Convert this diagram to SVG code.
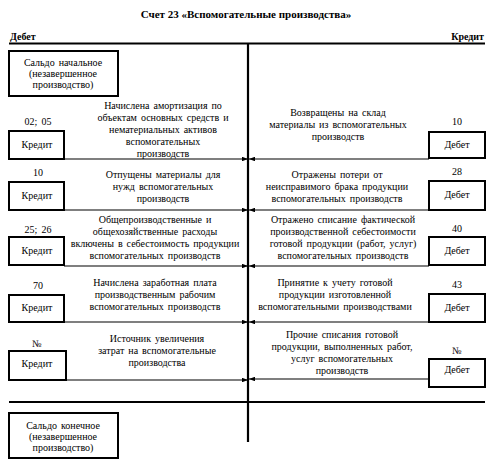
<svg xmlns="http://www.w3.org/2000/svg" width="495" height="470" viewBox="0 0 495 470" font-family="'Liberation Serif', 'Times New Roman', serif">
<style>
text{font-family:'Liberation Serif','Times New Roman',serif;font-size:10px;fill:#000;word-spacing:1.5px}
.t{font-weight:bold;font-size:11px;word-spacing:0}
.h{font-weight:bold;font-size:10px;word-spacing:0}
.m{text-anchor:middle}
.box{fill:#fff;stroke:#000;stroke-width:2}
.axis{stroke:#000;stroke-width:2.2;fill:none}
.ar{stroke:#000;stroke-width:1.1;fill:none}
</style>
<defs>
<marker id="ah" viewBox="0 0 8 6" refX="8" refY="3" markerWidth="6" markerHeight="4.5" orient="auto" markerUnits="userSpaceOnUse">
<path d="M0,0 L8,3 L0,6 z" fill="#000"/>
</marker>
</defs>
<rect width="495" height="470" fill="#fff"/>
<text class="t m" x="246" y="18">Счет 23 «Вспомогательные производства»</text>
<text class="h" x="10" y="40">Дебет</text>
<text class="h" x="484" y="40" text-anchor="end">Кредит</text>
<g id="axes">
<line class="axis" x1="9" y1="43.5" x2="485" y2="43.5"/>
<line class="axis" x1="248" y1="43" x2="248" y2="442"/>
<line class="axis" x1="9" y1="402" x2="485" y2="402"/>
</g>
<g id="connectors">
<line class="ar" x1="64" y1="159" x2="248" y2="159" marker-end="url(#ah)"/>
<line class="ar" x1="429" y1="159" x2="249" y2="159" marker-end="url(#ah)"/>
<line class="ar" x1="64" y1="210" x2="248" y2="210" marker-end="url(#ah)"/>
<line class="ar" x1="429" y1="210" x2="249" y2="210" marker-end="url(#ah)"/>
<line class="ar" x1="64" y1="266" x2="248" y2="266" marker-end="url(#ah)"/>
<line class="ar" x1="429" y1="266" x2="249" y2="266" marker-end="url(#ah)"/>
<line class="ar" x1="64" y1="322" x2="248" y2="322" marker-end="url(#ah)"/>
<line class="ar" x1="429" y1="322" x2="249" y2="322" marker-end="url(#ah)"/>
<line class="ar" x1="66" y1="380" x2="248" y2="380" marker-end="url(#ah)"/>
<line class="ar" x1="429" y1="379" x2="249" y2="379" marker-end="url(#ah)"/>
</g>
<g id="saldo-start">
<rect class="box" x="9" y="51" width="109" height="45"/>
<text class="m" x="63" y="66">Сальдо начальное</text>
<text class="m" x="63" y="77">(незавершенное</text>
<text class="m" x="63" y="88">производство)</text>
</g>
<g id="l1">
<text class="m" x="38" y="125">02; 05</text>
<rect class="box" x="9" y="131" width="55" height="28"/>
<text class="m" x="37" y="148">Кредит</text>
<text class="m" x="163" y="109">Начислена амортизация по</text>
<text class="m" x="163" y="121">объектам основных средств и</text>
<text class="m" x="163" y="133">нематериальных активов</text>
<text class="m" x="163" y="145">вспомогательных</text>
<text class="m" x="163" y="157">производств</text>
</g>
<g id="r1">
<text class="m" x="457" y="125">10</text>
<rect class="box" x="429" y="132" width="56" height="26"/>
<text class="m" x="457" y="148">Дебет</text>
<text class="m" x="338" y="116">Возвращены на склад</text>
<text class="m" x="338" y="128">материалы из вспомогательных</text>
<text class="m" x="338" y="140">производств</text>
</g>
<g id="l2">
<text class="m" x="38" y="176">10</text>
<rect class="box" x="9" y="182" width="55" height="28"/>
<text class="m" x="37" y="199">Кредит</text>
<text class="m" x="163" y="178">Отпущены материалы для</text>
<text class="m" x="163" y="190">нужд вспомогательных</text>
<text class="m" x="163" y="202">производств</text>
</g>
<g id="r2">
<text class="m" x="457" y="175">28</text>
<rect class="box" x="429" y="181" width="56" height="29"/>
<text class="m" x="457" y="198">Дебет</text>
<text class="m" x="337" y="178">Отражены потери от</text>
<text class="m" x="337" y="190">неисправимого брака продукции</text>
<text class="m" x="337" y="202">вспомогательных производств</text>
</g>
<g id="l3">
<text class="m" x="38" y="233">25; 26</text>
<rect class="box" x="9" y="237" width="55" height="28"/>
<text class="m" x="37" y="254">Кредит</text>
<text class="m" x="155" y="223">Общепроизводственные и</text>
<text class="m" x="155" y="235">общехозяйственные расходы</text>
<text class="m" x="155" y="247">включены в себестоимость продукции</text>
<text class="m" x="155" y="259">вспомогательных производств</text>
</g>
<g id="r3">
<text class="m" x="457" y="232">40</text>
<rect class="box" x="429" y="237" width="56" height="28"/>
<text class="m" x="457" y="254">Дебет</text>
<text class="m" x="343" y="223">Отражено списание фактической</text>
<text class="m" x="343" y="235">производственной себестоимости</text>
<text class="m" x="343" y="247">готовой продукции (работ, услуг)</text>
<text class="m" x="343" y="259">вспомогательных производств</text>
</g>
<g id="l4">
<text class="m" x="38" y="289">70</text>
<rect class="box" x="9" y="295" width="55" height="27"/>
<text class="m" x="37" y="311">Кредит</text>
<text class="m" x="155" y="286">Начислена заработная плата</text>
<text class="m" x="155" y="298">производственным рабочим</text>
<text class="m" x="155" y="310">вспомогательных производств</text>
</g>
<g id="r4">
<text class="m" x="457" y="288">43</text>
<rect class="box" x="429" y="294" width="56" height="28"/>
<text class="m" x="457" y="311">Дебет</text>
<text class="m" x="335" y="286">Принятие к учету готовой</text>
<text class="m" x="335" y="298">продукции изготовленной</text>
<text class="m" x="335" y="310">вспомогательными производствами</text>
</g>
<g id="l5">
<text class="m" x="37" y="347">№</text>
<rect class="box" x="9" y="351" width="57" height="29"/>
<text class="m" x="37" y="367">Кредит</text>
<text class="m" x="157" y="342">Источник увеличения</text>
<text class="m" x="157" y="354">затрат на вспомогательные</text>
<text class="m" x="157" y="366">производства</text>
</g>
<g id="r5">
<text class="m" x="457" y="354">№</text>
<rect class="box" x="429" y="359" width="56" height="28"/>
<text class="m" x="457" y="373">Дебет</text>
<text class="m" x="342" y="338">Прочие списания готовой</text>
<text class="m" x="342" y="350">продукции, выполненных работ,</text>
<text class="m" x="342" y="362">услуг вспомогательных</text>
<text class="m" x="342" y="374">производств</text>
</g>
<g id="saldo-end">
<rect class="box" x="9" y="413" width="109" height="45"/>
<text class="m" x="63" y="429">Сальдо конечное</text>
<text class="m" x="63" y="440">(незавершенное</text>
<text class="m" x="63" y="451">производство)</text>
</g>
</svg>
